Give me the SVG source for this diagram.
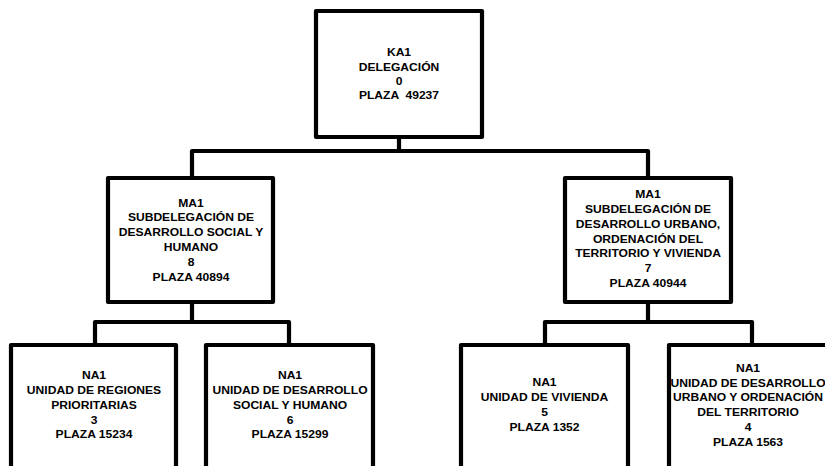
<svg xmlns="http://www.w3.org/2000/svg" width="825" height="466" viewBox="0 0 825 466">
<style>
.box{fill:#fff;stroke:#000;stroke-width:4.2;stroke-linejoin:round}
.con{fill:none;stroke:#000;stroke-width:4.2;stroke-linejoin:round}
.t{font-family:"Liberation Sans",Arial,sans-serif;font-weight:bold;font-size:11px;fill:#000;text-anchor:middle;white-space:pre}
</style>
<rect width="825" height="466" fill="#fff"/>
<g id="connectors">
<path class="con" d="M399,137 V151"/>
<path class="con" d="M192,178 V151 H648 V178"/>
<path class="con" d="M192,302 V322"/>
<path class="con" d="M95,345 V322 H289 V345"/>
<path class="con" d="M648,302 V322"/>
<path class="con" d="M545,345 V322 H752 V345"/>
</g>
<g id="ka1">
<rect class="box" x="316" y="11" width="166" height="126"/>
<text class="t" transform="translate(399 0) scale(1.1 1)"><tspan x="0" y="56.5">KA1</tspan><tspan x="0" y="70.8">DELEGACIÓN</tspan><tspan x="0" y="85">0</tspan><tspan x="0" y="99.2">PLAZA  49237</tspan></text>
</g>
<g id="ma1-social">
<rect class="box" x="108" y="178" width="165" height="124"/>
<text class="t" transform="translate(191 0) scale(1.1 1)"><tspan x="0" y="206.7">MA1</tspan><tspan x="0" y="221.5">SUBDELEGACIÓN DE</tspan><tspan x="0" y="236.3">DESARROLLO SOCIAL Y</tspan><tspan x="0" y="251">HUMANO</tspan><tspan x="0" y="265.8">8</tspan><tspan x="0" y="280.6">PLAZA 40894</tspan></text>
</g>
<g id="ma1-urbano">
<rect class="box" x="565" y="178" width="166" height="124"/>
<text class="t" transform="translate(648 0) scale(1.1 1)"><tspan x="0" y="198.5">MA1</tspan><tspan x="0" y="213.2">SUBDELEGACIÓN DE</tspan><tspan x="0" y="227.9">DESARROLLO URBANO,</tspan><tspan x="0" y="242.6">ORDENACIÓN DEL</tspan><tspan x="0" y="257.3">TERRITORIO Y VIVIENDA</tspan><tspan x="0" y="272">7</tspan><tspan x="0" y="286.7">PLAZA 40944</tspan></text>
</g>
<g id="na1-regiones">
<rect class="box" x="11" y="345" width="165" height="125"/>
<text class="t" transform="translate(94 0) scale(1.1 1)"><tspan x="0" y="379.5">NA1</tspan><tspan x="0" y="394.3">UNIDAD DE REGIONES</tspan><tspan x="0" y="409">PRIORITARIAS</tspan><tspan x="0" y="423.8">3</tspan><tspan x="0" y="438.5">PLAZA 15234</tspan></text>
</g>
<g id="na1-social">
<rect class="box" x="206" y="345" width="167" height="125"/>
<text class="t" transform="translate(290 0) scale(1.1 1)"><tspan x="0" y="379.5">NA1</tspan><tspan x="0" y="394.3">UNIDAD DE DESARROLLO</tspan><tspan x="0" y="409">SOCIAL Y HUMANO</tspan><tspan x="0" y="423.8">6</tspan><tspan x="0" y="438.5">PLAZA 15299</tspan></text>
</g>
<g id="na1-vivienda">
<rect class="box" x="461" y="345" width="167" height="125"/>
<text class="t" transform="translate(544.5 0) scale(1.1 1)"><tspan x="0" y="386.5">NA1</tspan><tspan x="0" y="401.3">UNIDAD DE VIVIENDA</tspan><tspan x="0" y="416">5</tspan><tspan x="0" y="430.8">PLAZA 1352</tspan></text>
</g>
<g id="na1-urbano">
<rect class="box" x="669" y="345" width="164" height="125"/>
<text class="t" transform="translate(748 0) scale(1.1 1)"><tspan x="0" y="372">NA1</tspan><tspan x="0" y="386.8">UNIDAD DE DESARROLLO</tspan><tspan x="0" y="401.5">URBANO Y ORDENACIÓN</tspan><tspan x="0" y="416.3">DEL TERRITORIO</tspan><tspan x="0" y="431">4</tspan><tspan x="0" y="445.8">PLAZA 1563</tspan></text>
</g>
</svg>
